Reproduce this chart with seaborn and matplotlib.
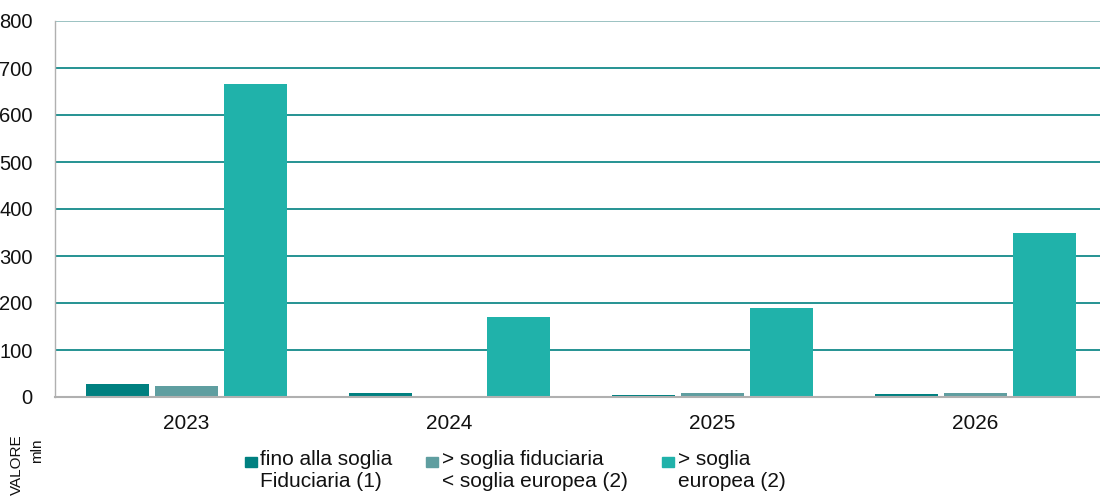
import matplotlib
matplotlib.use("Agg")
import matplotlib.pyplot as plt
import matplotlib.patches as mpatches
import seaborn as sns
import pandas as pd

years = ["2023", "2024", "2025", "2026"]
series_names = ["fino alla soglia\nFiduciaria (1)",
                "> soglia fiduciaria\n< soglia europea (2)",
                "> soglia\neuropea (2)"]
fino_soglia = [27, 9, 5, 6]
sopra_fiduciaria = [24, 3, 8, 8]
sopra_europea = [667, 171, 190, 350]
colors = ["#008080", "#5F9EA0", "#20B2AA"]
yticks = [0, 100, 200, 300, 400, 500, 600, 700, 800]

sns.set_theme(style="white")
plt.rcParams['font.family'] = ['Liberation Sans', 'DejaVu Sans']

rows = []
for name, vals in zip(series_names, [fino_soglia, sopra_fiduciaria, sopra_europea]):
    for y, v in zip(years, vals):
        rows.append({"anno": y, "serie": name, "valore": v})
df = pd.DataFrame(rows)

W, H = 1100, 497
fig = plt.figure(figsize=(W / 100, H / 100), dpi=100)
ax = fig.add_axes([55 / W, 100 / H, 1052 / W, 376 / H])

sns.barplot(data=df, x="anno", y="valore", hue="serie", hue_order=series_names,
            palette=colors, width=0.787, gap=0.084, ax=ax, legend=False,
            saturation=1, edgecolor="none")

ax.set_xlim(-0.5, 3.5)
ax.set_ylim(0, 800)
ax.set_yticks(yticks)
ax.set_yticklabels([str(t) for t in yticks], fontsize=14.5)
ax.set_xlabel("")
ax.set_ylabel("")
ax.tick_params(axis="x", which="major", length=0, labelsize=15, pad=12, labelcolor="#111111")
ax.set_xticks([0.5, 1.5, 2.5], minor=True)
ax.tick_params(axis="x", which="minor", length=7, color="#b0b0b0", width=1)
ax.tick_params(axis="y", length=6, color="#b0b0b0", width=1, pad=10, labelcolor="#111111")
for t in yticks[1:]:
    ax.axhline(t, color="#008080" if t < 800 else "#8ab8b8", lw=1.2, zorder=0)
for s in ["top", "right"]:
    ax.spines[s].set_visible(False)
ax.spines["left"].set_color("#b0b0b0")
ax.spines["bottom"].set_color("#b0b0b0")
ax.spines["left"].set_linewidth(1)
ax.spines["bottom"].set_linewidth(1.5)

# legend (manual layout to match the reference)
marker_x = [245, 426, 662]
text_x = [260, 442, 678]
for c, n, mx, tx in zip(colors, series_names, marker_x, text_x):
    fig.add_artist(mpatches.Rectangle((mx / W, (H - 467) / H), 12 / W, 10 / H,
                                      transform=fig.transFigure, color=c))
    fig.text(tx / W, (H - 450) / H, n, fontsize=15, ha="left", va="top",
             linespacing=1.2, color="#111111")

fig.text(17 / W, (H - 465) / H, "VALORE", rotation=90, fontsize=11,
         ha="center", va="center", color="#111111")
fig.text(37 / W, (H - 451) / H, "mln", rotation=90, fontsize=11,
         ha="center", va="center", color="#111111")

fig.savefig("out.png", dpi=100)
